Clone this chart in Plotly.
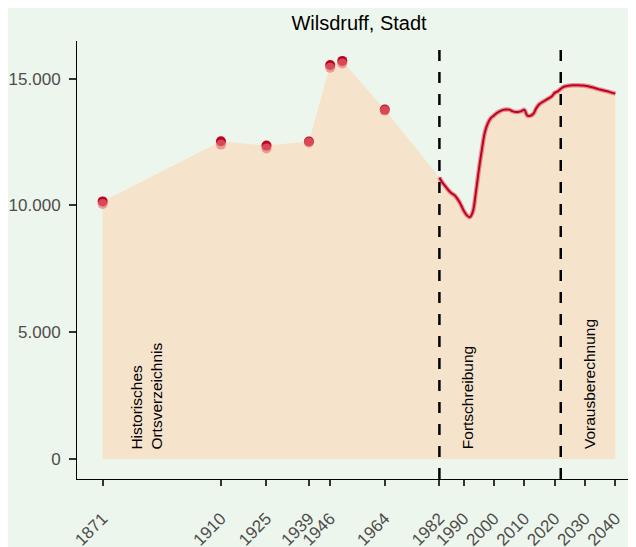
import plotly.graph_objects as go

# Historical census points (Historisches Ortsverzeichnis)
hist_years = [1871, 1910, 1925, 1939, 1946, 1950, 1964]
hist_values = [10160, 12530, 12360, 12520, 15540, 15700, 13780]
hist_values_alt = [10060, 12400, 12250, 12480, 15430, 15600, 13740]

# Annual series (Fortschreibung + Vorausberechnung)
line_years = list(range(1982, 2041))
line_values = [
    11100, 10900, 10750, 10600, 10480, 10400, 10250, 10050, 9800, 9620,
    9540, 9750, 10500, 11400, 12200, 12900, 13250, 13450, 13550, 13650,
    13720, 13770, 13780, 13780, 13720, 13690, 13690, 13720, 13770, 13540,
    13540, 13620, 13850, 14000, 14080, 14150, 14220, 14300, 14440, 14500,
    14600, 14680, 14710, 14730, 14740, 14740, 14740, 14730, 14720, 14700,
    14670, 14640, 14600, 14570, 14540, 14510, 14480, 14440, 14410,
]

x_tick_years = [1871, 1910, 1925, 1939, 1946, 1964, 1982, 1990, 2000, 2010, 2020, 2030, 2040]
y_tick_vals = [0, 5000, 10000, 15000]
y_tick_text = ["0", "5.000", "10.000", "15.000"]
period_breaks = [1982, 2022]

BG = "#edf6ec"
FILL = "#f5e3cb"
FONT = "Liberation Sans, Arial, sans-serif"

fig = go.Figure()

fig.add_trace(go.Scatter(
    x=hist_years + line_years, y=hist_values + line_values,
    mode="lines", fill="tozeroy", fillcolor=FILL,
    line=dict(width=0, color=FILL), hoverinfo="skip", showlegend=False,
))
fig.add_trace(go.Scatter(
    x=line_years, y=line_values, mode="lines",
    line=dict(color="rgba(215,70,90,0.55)", width=4.5, shape="spline"),
    showlegend=False,
))
fig.add_trace(go.Scatter(
    x=line_years, y=line_values, mode="lines",
    line=dict(color="#c0001f", width=2, shape="spline"),
    showlegend=False,
))
fig.add_trace(go.Scatter(
    x=hist_years, y=hist_values, mode="markers",
    marker=dict(color="#bd001f", size=10), showlegend=False,
))
fig.add_trace(go.Scatter(
    x=hist_years, y=hist_values_alt, mode="markers",
    marker=dict(color="rgba(232,110,115,0.65)", size=10), showlegend=False,
))

for yr in period_breaks:
    fig.add_shape(type="line", xref="x", yref="paper", x0=yr, x1=yr, y0=0, y1=1,
                  line=dict(color="black", width=2.5, dash="11px,11px"))

ann_font = dict(family=FONT, size=15.5, color="black")
fig.add_annotation(x=1885.5, y=300, xref="x", yref="y", text="Historisches<br>Ortsverzeichnis",
                   textangle=-90, showarrow=False, yanchor="bottom", xanchor="center",
                   align="left", font=ann_font)
fig.add_annotation(x=1991.5, y=300, xref="x", yref="y", text="Fortschreibung",
                   textangle=-90, showarrow=False, yanchor="bottom", xanchor="center",
                   font=ann_font)
fig.add_annotation(x=2031.5, y=300, xref="x", yref="y", text="Vorausberechnung",
                   textangle=-90, showarrow=False, yanchor="bottom", xanchor="center",
                   font=ann_font)

fig.update_layout(
    width=636, height=547,
    margin=dict(l=69, r=3, t=33, b=76, autoexpand=False),
    paper_bgcolor=BG, plot_bgcolor=BG,
    font=dict(family=FONT, color="#4d4d4d", size=17),
    title=dict(text="Wilsdruff, Stadt", x=0.5, xref="paper", xanchor="center",
               y=1 - 15 / 547, yanchor="middle", yref="container",
               font=dict(family=FONT, size=20, color="black")),
    showlegend=False,
)
fig.update_xaxes(
    range=[1862.55, 2048.45], tickvals=x_tick_years, ticktext=[str(v) for v in x_tick_years],
    tickangle=-45, showgrid=False, zeroline=False, automargin=False,
    showline=True, linecolor="black", linewidth=1,
    ticks="outside", ticklen=6, tickwidth=2, tickcolor="#333333",
    ticklabelstandoff=16, tickfont=dict(size=17, color="#4d4d4d"),
)
fig.update_yaxes(
    range=[-785, 16485], tickvals=y_tick_vals, ticktext=y_tick_text,
    showgrid=False, zeroline=False, automargin=False,
    showline=True, linecolor="black", linewidth=1,
    ticks="outside", ticklen=7, tickwidth=2, tickcolor="#333333",
    ticklabelstandoff=5, tickfont=dict(size=17, color="#4d4d4d"),
)

fig.write_html("out.html")
